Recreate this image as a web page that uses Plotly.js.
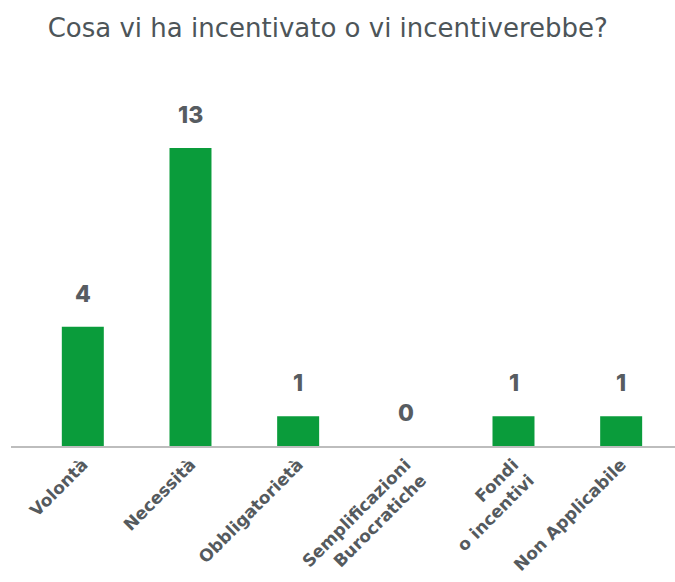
<!DOCTYPE html>
<html>
<head>
<meta charset="utf-8">
<script src="https://cdn.plot.ly/plotly-3.0.1.min.js"></script>
<style>html,body{margin:0;padding:0;background:#fff;}#chart{width:675px;height:582px;}</style>
</head>
<body>
<div id="chart"></div>
<script>
const categories = ["Volontà", "Necessità", "Obbligatorietà", "Semplificazioni<br>Burocratiche", "Fondi<br>o incentivi", "Non Applicabile"];
const values = [4, 13, 1, 0, 1, 1];
const yMax = 10;

const barColor = "#0a9c3b";
const textGray = "#575c61";

const annotations = categories.map((c, i) => ({
  x: c, y: Math.min(values[i], yMax), xref: "x", yref: "y",
  text: String(values[i]), showarrow: false,
  yanchor: "middle", yshift: 33,
  font: {family: "Inter, 'Open Sans', sans-serif", size: 23, color: textGray, weight: 800}
}));

const data = [{
  type: "bar", x: categories, y: values,
  marker: {color: barColor}, width: 0.39,
  hoverinfo: "skip"
}];

const layout = {
  width: 675, height: 582,
  margin: {l: 11, r: 0, t: 148, b: 136},
  paper_bgcolor: "#fff", plot_bgcolor: "#fff",
  showlegend: false,
  title: {
    text: "Cosa vi ha incentivato o vi incentiverebbe?",
    x: 0.477, xanchor: "center", xref: "paper",
    y: 1 - 28/582, yanchor: "middle", yref: "container",
    font: {family: "'DejaVu Sans', sans-serif", size: 26, color: "#4d5559", weight: 400}
  },
  xaxis: {
    type: "category", range: [-0.667, 5.5],
    tickangle: -45, showgrid: false, zeroline: false,
    showline: true, linecolor: "#bdbdbd", linewidth: 2,
    ticks: "", ticklen: 0,
    tickfont: {family: "'DejaVu Sans', sans-serif", size: 17, color: "#555a5e", weight: 700}
  },
  yaxis: {
    range: [0, yMax], visible: false, showgrid: false, zeroline: false
  },
  annotations: annotations
};

Plotly.newPlot("chart", data, layout, {displayModeBar: false, staticPlot: true});
</script>
</body>
</html>
